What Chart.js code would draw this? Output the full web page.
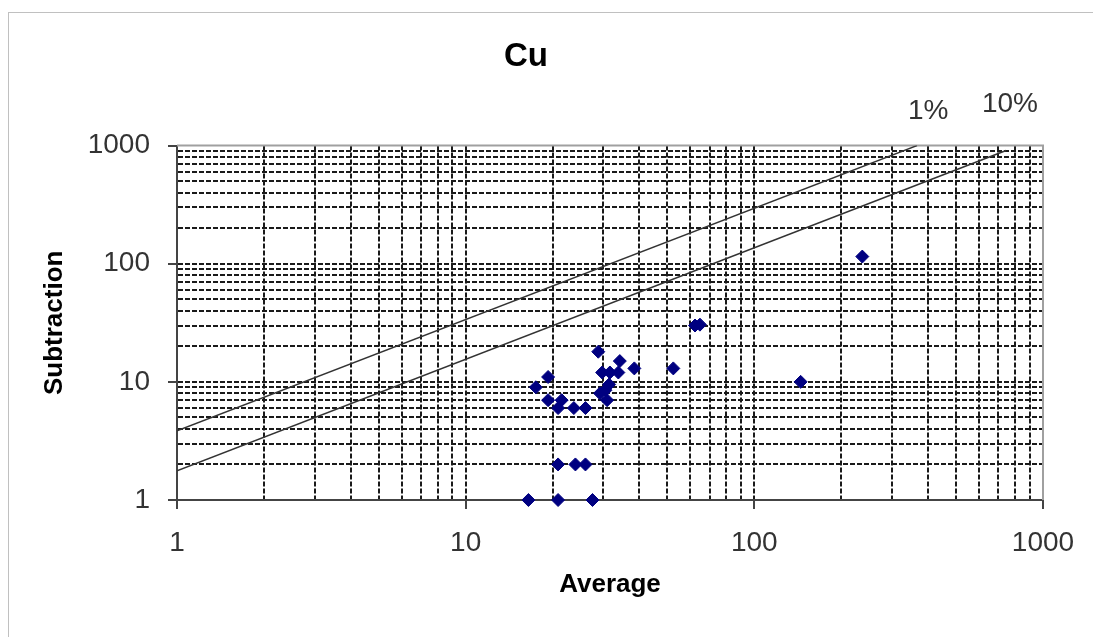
<!DOCTYPE html>
<html lang="en">
<head>
  <meta charset="UTF-8" />
  <title>Cu</title>
  <script src="https://cdn.jsdelivr.net/npm/chart.js"></script>
  <style>
    html, body { margin: 0; padding: 0; background: #fff; overflow: hidden; }
    #frame {
      position: absolute; left: 8px; top: 12px;
      width: 1110px; height: 700px;
      border: 1px solid #c0c0c0;
    }
    #cuChart { position: absolute; left: 0; top: 0; }
  </style>
</head>
<body>
  <div id="frame">
    <canvas id="cuChart" width="1096" height="624"></canvas>
  </div>

  <script>
    // measured points (Average, Subtraction)
    const avgValues = [16.5, 20.9, 27.5, 20.9, 24.0, 26.0, 20.9, 23.7, 26.0, 19.3,
                       21.5, 17.5, 19.3, 28.8, 29.7, 31.6, 33.8, 34.2, 38.4, 52.4,
                       29.2, 30.9, 31.4, 30.5, 62.3, 64.8, 144.7, 236.6];
    const subValues = [1, 1, 1, 2, 2, 2, 6, 6, 6, 7,
                       7, 9, 11, 18, 12, 12, 12, 15, 13, 13,
                       8, 7, 9.5, 8.5, 30, 30.5, 10, 115];

    // reference lines
    const line1Avg = [1, 366];
    const line1Sub = [3.85, 1000];
    const line10Avg = [1, 745];
    const line10Sub = [1.77, 910];

    // line labels
    const lineLabels = ['1%', '10%'];
    const lineLabelAvg = [400, 768];
    const lineLabelSub = [1940, 2230];

    // log axis ticks
    const logTicks = [1, 2, 3, 4, 5, 6, 7, 8, 9,
                      10, 20, 30, 40, 50, 60, 70, 80, 90,
                      100, 200, 300, 400, 500, 600, 700, 800, 900, 1000];
    const majorTicks = [1, 10, 100, 1000];

    const FONT = 'Liberation Sans, Arial, sans-serif';
    const toXY = (xs, ys) => xs.map((x, i) => ({ x: x, y: ys[i] }));
    const isMajor = v => majorTicks.includes(v);

    const plotFrame = {
      id: 'plotFrame',
      beforeDatasetsDraw(chart) {
        const { ctx, chartArea: a } = chart;
        ctx.save();
        ctx.strokeStyle = '#a0a0a0';
        ctx.lineWidth = 2;
        ctx.beginPath();
        ctx.moveTo(a.left, a.top);
        ctx.lineTo(a.right, a.top);
        ctx.lineTo(a.right, a.bottom);
        ctx.stroke();
        ctx.restore();
      }
    };

    const lineTags = {
      id: 'lineTags',
      afterDatasetsDraw(chart) {
        const { ctx, scales } = chart;
        ctx.save();
        ctx.font = '28px ' + FONT;
        ctx.fillStyle = '#333';
        ctx.textAlign = 'center';
        ctx.textBaseline = 'middle';
        lineLabels.forEach((t, i) => {
          ctx.fillText(t, scales.x.getPixelForValue(lineLabelAvg[i]),
                          scales.y.getPixelForValue(lineLabelSub[i]));
        });
        ctx.restore();
      }
    };

    function axisOpts(titleText, titlePad, fit) {
      return {
        type: 'logarithmic',
        min: 1,
        max: 1000,
        afterBuildTicks: scale => { scale.ticks = logTicks.map(v => ({ value: v })); },
        afterFit: fit,
        border: { display: true, color: '#444', width: 2, dash: [5, 2] },
        grid: {
          color: c => (c.tick && (c.tick.value === 1 || c.tick.value === 1000)) ? 'rgba(0,0,0,0)' : '#1a1a1a',
          lineWidth: 2,
          drawTicks: true,
          tickLength: 9,
          tickWidth: 2,
          tickColor: c => (c.tick && isMajor(c.tick.value)) ? '#444' : 'rgba(0,0,0,0)'
        },
        ticks: {
          autoSkip: false,
          maxRotation: 0,
          color: '#333',
          font: { family: FONT, size: 28 },
          callback: v => isMajor(v) ? String(v) : ''
        },
        title: {
          display: true,
          text: titleText,
          color: '#000',
          font: { family: FONT, size: 26, weight: 'bold' },
          padding: titlePad
        }
      };
    }

    const xAxis = axisOpts('Average', { top: 0, bottom: 37 }, s => { s.height = 137; });
    xAxis.ticks.padding = 17;
    const yAxis = axisOpts('Subtraction', { top: 30, bottom: 0 }, s => { s.width = 168; });
    yAxis.ticks.padding = 18;

    new Chart(document.getElementById('cuChart').getContext('2d'), {
      type: 'scatter',
      data: {
        datasets: [
          {
            label: 'Cu',
            data: toXY(avgValues, subValues),
            pointStyle: 'rectRot',
            pointRadius: 6.5,
            pointHoverRadius: 6.5,
            backgroundColor: '#000080',
            borderColor: '#000080',
            borderWidth: 1,
            clip: false
          },
          {
            label: '1%',
            data: toXY(line1Avg, line1Sub),
            showLine: true,
            pointRadius: 0,
            borderColor: '#333',
            borderWidth: 1.5
          },
          {
            label: '10%',
            data: toXY(line10Avg, line10Sub),
            showLine: true,
            pointRadius: 0,
            borderColor: '#333',
            borderWidth: 1.5
          }
        ]
      },
      options: {
        responsive: false,
        animation: false,
        layout: { padding: { left: 0, right: 62, top: 0, bottom: 0 } },
        plugins: {
          legend: { display: false },
          tooltip: { enabled: false },
          title: {
            display: true,
            text: 'Cu',
            color: '#000',
            font: { family: FONT, size: 33, weight: 'bold' },
            padding: { top: 24, bottom: 69 }
          }
        },
        scales: { x: xAxis, y: yAxis }
      },
      plugins: [plotFrame, lineTags]
    });
  </script>
</body>
</html>
